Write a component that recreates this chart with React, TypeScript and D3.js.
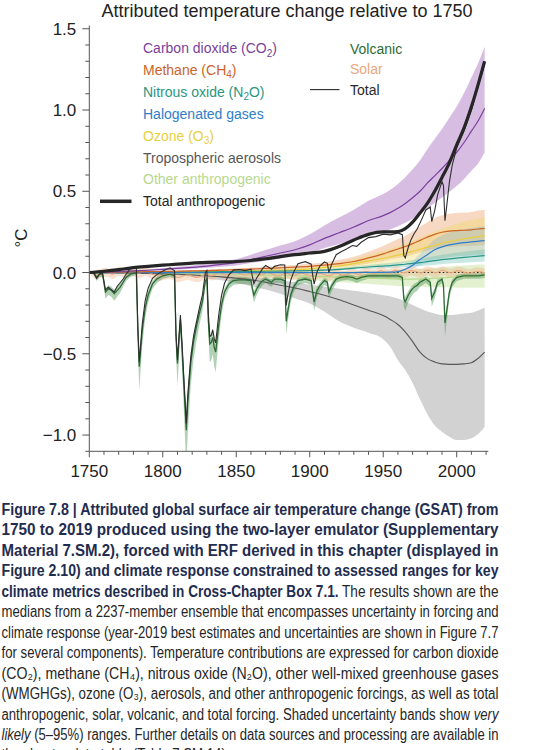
import React from 'react';
import * as d3 from 'd3';

// ---------- data (°C relative to 1750) ----------
const YEARS = [1750,1760,1770,1780,1790,1800,1810,1820,1830,1840,1850,1860,1870,1880,1890,1900,1910,1920,1930,1940,1950,1955,1960,1965,1970,1975,1980,1985,1990,1995,2000,2005,2010,2015,2019];

const CO2 = [0,0.003,0.006,0.01,0.014,0.019,0.025,0.032,0.04,0.05,0.06,0.08,0.10,0.12,0.14,0.17,0.21,0.245,0.28,0.32,0.35,0.37,0.395,0.425,0.46,0.50,0.55,0.595,0.64,0.69,0.74,0.80,0.87,0.94,1.01];
const CO2_LO = [0,0.002,0.004,0.007,0.01,0.014,0.018,0.023,0.029,0.036,0.043,0.058,0.072,0.086,0.101,0.122,0.151,0.176,0.202,0.23,0.252,0.266,0.284,0.306,0.331,0.36,0.396,0.428,0.461,0.497,0.533,0.576,0.626,0.677,0.74];
const CO2_HI = [0,0.004,0.008,0.014,0.019,0.026,0.035,0.044,0.055,0.069,0.083,0.11,0.138,0.166,0.193,0.235,0.29,0.338,0.386,0.442,0.483,0.511,0.545,0.587,0.635,0.69,0.759,0.821,0.883,0.952,1.021,1.104,1.2,1.297,1.39];

const CH4 = [0,0.001,0.002,0.004,0.005,0.007,0.008,0.01,0.012,0.015,0.018,0.021,0.025,0.029,0.033,0.038,0.045,0.055,0.068,0.09,0.115,0.13,0.145,0.16,0.178,0.198,0.218,0.235,0.248,0.255,0.258,0.26,0.263,0.268,0.272];
const CH4_LO = [0,0.001,0.001,0.002,0.003,0.004,0.005,0.006,0.007,0.009,0.011,0.013,0.016,0.018,0.02,0.024,0.028,0.034,0.042,0.056,0.071,0.081,0.09,0.099,0.11,0.123,0.135,0.146,0.154,0.158,0.16,0.161,0.163,0.166,0.169];
const CH4_HI = [0,0.001,0.003,0.006,0.007,0.01,0.011,0.014,0.017,0.021,0.026,0.03,0.036,0.041,0.047,0.054,0.064,0.078,0.097,0.128,0.163,0.185,0.206,0.227,0.253,0.281,0.31,0.334,0.352,0.362,0.366,0.369,0.373,0.381,0.386];

const N2O = [0,0,0.001,0.001,0.002,0.002,0.003,0.003,0.004,0.005,0.006,0.007,0.008,0.009,0.01,0.012,0.015,0.02,0.027,0.034,0.04,0.043,0.047,0.051,0.056,0.061,0.067,0.073,0.079,0.084,0.089,0.093,0.097,0.101,0.104];
const N2O_LO = [0,0,0.001,0.001,0.001,0.001,0.002,0.002,0.003,0.003,0.004,0.005,0.005,0.006,0.007,0.008,0.01,0.013,0.018,0.022,0.026,0.028,0.031,0.033,0.036,0.04,0.044,0.047,0.051,0.055,0.058,0.06,0.063,0.066,0.068];
const N2O_HI = [0,0,0.001,0.001,0.003,0.003,0.004,0.004,0.006,0.007,0.008,0.01,0.011,0.012,0.014,0.017,0.021,0.028,0.037,0.047,0.055,0.059,0.065,0.07,0.077,0.084,0.092,0.101,0.109,0.116,0.123,0.128,0.134,0.139,0.144];

const HALO = [0,0,0,0,0,0,0,0,0,0,0,0,0,0,0,0,0,0,0,0.001,0.001,0.002,0.006,0.02,0.045,0.08,0.11,0.14,0.158,0.17,0.178,0.184,0.189,0.193,0.196];
const HALO_LO = [0,0,0,0,0,0,0,0,0,0,0,0,0,0,0,0,0,0,0,0,0.001,0.001,0.003,0.011,0.025,0.044,0.06,0.077,0.087,0.094,0.098,0.101,0.104,0.106,0.108];
const HALO_HI = [0,0,0,0,0,0,0,0,0,0,0,0,0,0,0,0,0,0,0,0.001,0.002,0.003,0.009,0.029,0.065,0.116,0.16,0.203,0.229,0.247,0.258,0.267,0.274,0.28,0.284];

const O3 = [0,0,0.001,0.001,0.002,0.002,0.003,0.004,0.005,0.006,0.008,0.01,0.012,0.015,0.018,0.022,0.03,0.04,0.055,0.072,0.088,0.097,0.107,0.118,0.13,0.143,0.156,0.168,0.18,0.19,0.2,0.208,0.215,0.221,0.226];
const O3_LO = [0,0,0.001,0.001,0.001,0.001,0.002,0.002,0.003,0.003,0.004,0.005,0.006,0.008,0.009,0.011,0.015,0.02,0.028,0.036,0.044,0.049,0.054,0.059,0.065,0.072,0.078,0.084,0.09,0.095,0.1,0.104,0.108,0.111,0.113];
const O3_HI = [0,0,0.002,0.002,0.003,0.003,0.005,0.006,0.008,0.009,0.012,0.015,0.018,0.023,0.027,0.033,0.045,0.06,0.083,0.108,0.132,0.146,0.161,0.177,0.195,0.215,0.234,0.252,0.27,0.285,0.3,0.312,0.323,0.332,0.339];

const AER = [0,-0.001,-0.002,-0.004,-0.006,-0.008,-0.011,-0.015,-0.02,-0.027,-0.035,-0.045,-0.06,-0.078,-0.095,-0.117,-0.14,-0.168,-0.2,-0.232,-0.265,-0.29,-0.32,-0.365,-0.425,-0.49,-0.53,-0.55,-0.562,-0.565,-0.565,-0.562,-0.555,-0.525,-0.49];
const AER_LO = [0,-0.001,-0.002,-0.004,-0.007,-0.012,-0.018,-0.026,-0.036,-0.048,-0.065,-0.085,-0.105,-0.13,-0.16,-0.19,-0.24,-0.3,-0.34,-0.37,-0.41,-0.46,-0.54,-0.6,-0.68,-0.78,-0.87,-0.94,-0.98,-1.01,-1.03,-1.03,-1.02,-0.99,-0.95];
const AER_HI = [0,0,0,-0.001,-0.001,-0.002,-0.003,-0.005,-0.008,-0.012,-0.018,-0.027,-0.037,-0.048,-0.06,-0.075,-0.088,-0.1,-0.112,-0.125,-0.14,-0.148,-0.16,-0.178,-0.2,-0.22,-0.24,-0.252,-0.262,-0.262,-0.258,-0.252,-0.247,-0.232,-0.215];

const OTHER = [0,-0.001,-0.002,-0.003,-0.004,-0.005,-0.006,-0.007,-0.008,-0.01,-0.012,-0.014,-0.016,-0.018,-0.02,-0.022,-0.025,-0.028,-0.031,-0.034,-0.037,-0.039,-0.04,-0.04,-0.04,-0.039,-0.037,-0.035,-0.033,-0.03,-0.027,-0.025,-0.023,-0.021,-0.02];
const OTHER_LO = [0,-0.003,-0.005,-0.007,-0.009,-0.011,-0.013,-0.016,-0.018,-0.022,-0.026,-0.03,-0.034,-0.038,-0.042,-0.047,-0.053,-0.058,-0.064,-0.07,-0.076,-0.08,-0.083,-0.085,-0.087,-0.088,-0.089,-0.09,-0.091,-0.092,-0.093,-0.093,-0.094,-0.094,-0.094];
const OTHER_HI = [0,0.001,0.001,0.001,0.002,0.002,0.002,0.002,0.003,0.003,0.003,0.004,0.004,0.005,0.005,0.006,0.006,0.007,0.008,0.009,0.01,0.011,0.013,0.015,0.018,0.021,0.025,0.029,0.033,0.037,0.041,0.044,0.047,0.049,0.05];

const ANTHRO = [0,0.008,0.018,0.03,0.038,0.045,0.052,0.058,0.062,0.065,0.068,0.074,0.085,0.098,0.11,0.12,0.13,0.16,0.2,0.235,0.25,0.25,0.252,0.27,0.31,0.366,0.425,0.5,0.585,0.675,0.785,0.89,1.02,1.17,1.30];

const VOLC_YEARS = [1750,1753,1755,1757,1759,1761,1763,1765,1767,1769,1771,1773,1775,1778,1782,1783,1784,1786,1788,1790,1793,1796,1800,1805,1808,1809,1810,1811,1812,1813,1815,1816,1817,1819,1821,1823,1825,1827,1829,1830,1831,1832,1833,1834,1835,1836,1838,1840,1842,1845,1848,1852,1856,1860,1861,1862,1864,1866,1868,1870,1872,1874,1876,1880,1883,1884,1885,1887,1889,1892,1897,1901,1902,1903,1905,1907,1910,1912,1913,1915,1918,1921,1925,1929,1932,1935,1940,1945,1950,1955,1960,1963,1964,1965,1967,1969,1971,1973,1975,1977,1979,1982,1983,1985,1987,1990,1991,1992,1993,1995,1997,2000,2005,2010,2015,2019];
const VOLCANIC = [0,0,-0.03,-0.01,-0.01,-0.12,-0.10,-0.11,-0.13,-0.11,-0.09,-0.06,-0.03,-0.01,0,-0.35,-0.58,-0.36,-0.22,-0.14,-0.07,-0.04,-0.02,-0.01,-0.02,-0.40,-0.56,-0.42,-0.29,-0.45,-0.80,-0.97,-0.80,-0.56,-0.42,-0.33,-0.25,-0.18,-0.05,-0.04,-0.30,-0.44,-0.43,-0.40,-0.46,-0.49,-0.33,-0.20,-0.12,-0.07,-0.05,-0.045,-0.045,-0.05,-0.10,-0.14,-0.10,-0.07,-0.05,-0.04,-0.05,-0.06,-0.04,-0.04,-0.05,-0.30,-0.24,-0.14,-0.09,-0.05,-0.04,-0.05,-0.12,-0.18,-0.11,-0.08,-0.05,-0.06,-0.12,-0.08,-0.04,-0.03,-0.025,-0.03,-0.04,-0.03,-0.02,-0.02,-0.02,-0.02,-0.02,-0.03,-0.16,-0.18,-0.14,-0.11,-0.09,-0.08,-0.06,-0.05,-0.04,-0.06,-0.16,-0.12,-0.06,-0.04,-0.08,-0.31,-0.25,-0.12,-0.06,-0.03,-0.02,-0.02,-0.02,-0.015];
const VOLC_LO = [0,-0.015,-0.052,-0.027,-0.027,-0.161,-0.137,-0.149,-0.174,-0.149,-0.125,-0.088,-0.052,-0.027,-0.015,-0.442,-0.723,-0.454,-0.283,-0.186,-0.10,-0.064,-0.039,-0.027,-0.039,-0.503,-0.698,-0.527,-0.369,-0.564,-0.991,-1.198,-0.991,-0.698,-0.527,-0.418,-0.32,-0.235,-0.076,-0.064,-0.381,-0.552,-0.54,-0.503,-0.576,-0.613,-0.418,-0.259,-0.161,-0.10,-0.076,-0.07,-0.07,-0.076,-0.137,-0.186,-0.137,-0.10,-0.076,-0.064,-0.076,-0.088,-0.064,-0.064,-0.076,-0.381,-0.308,-0.186,-0.125,-0.076,-0.064,-0.076,-0.161,-0.235,-0.149,-0.113,-0.076,-0.088,-0.161,-0.113,-0.064,-0.052,-0.046,-0.052,-0.064,-0.052,-0.039,-0.039,-0.039,-0.039,-0.039,-0.052,-0.21,-0.235,-0.186,-0.149,-0.125,-0.113,-0.088,-0.076,-0.064,-0.088,-0.21,-0.161,-0.088,-0.064,-0.113,-0.393,-0.32,-0.161,-0.088,-0.052,-0.039,-0.039,-0.039,-0.033];
const VOLC_HI = [0,0.012,-0.015,0.003,0.003,-0.096,-0.078,-0.087,-0.105,-0.087,-0.069,-0.042,-0.015,0.003,0.012,-0.303,-0.51,-0.312,-0.186,-0.114,-0.051,-0.024,-0.006,0.003,-0.006,-0.348,-0.492,-0.366,-0.249,-0.393,-0.708,-0.861,-0.708,-0.492,-0.366,-0.285,-0.213,-0.15,-0.033,-0.024,-0.258,-0.384,-0.375,-0.348,-0.402,-0.429,-0.285,-0.168,-0.096,-0.051,-0.033,-0.029,-0.029,-0.033,-0.078,-0.114,-0.078,-0.051,-0.033,-0.024,-0.033,-0.042,-0.024,-0.024,-0.033,-0.258,-0.204,-0.114,-0.069,-0.033,-0.024,-0.033,-0.096,-0.15,-0.087,-0.06,-0.033,-0.042,-0.096,-0.06,-0.024,-0.015,-0.01,-0.015,-0.024,-0.015,-0.006,-0.006,-0.006,-0.006,-0.006,-0.015,-0.132,-0.15,-0.114,-0.087,-0.069,-0.06,-0.042,-0.033,-0.024,-0.042,-0.132,-0.096,-0.042,-0.024,-0.06,-0.267,-0.213,-0.096,-0.042,-0.015,-0.006,-0.006,-0.006,-0.002];
const TOTAL = [0,-0.003,-0.036,-0.009,-0.003,-0.106,-0.091,-0.105,-0.12,-0.085,-0.063,-0.04,-0.011,0.026,0.032,-0.321,-0.552,-0.32,-0.174,-0.098,-0.035,-0.013,0.01,0.029,0.011,-0.374,-0.538,-0.395,-0.262,-0.418,-0.762,-0.929,-0.759,-0.525,-0.389,-0.301,-0.215,-0.137,0.0,0.012,-0.251,-0.393,-0.387,-0.352,-0.407,-0.432,-0.266,-0.141,-0.066,-0.014,0.015,0.018,0.011,0.02,-0.027,-0.068,-0.032,-0.004,0.025,0.043,0.033,0.02,0.038,0.048,0.046,-0.202,-0.144,-0.048,0.001,0.054,0.067,0.051,-0.016,-0.072,0.005,0.041,0.065,0.057,-0.001,0.052,0.11,0.126,0.145,0.166,0.161,0.186,0.215,0.221,0.236,0.232,0.244,0.233,0.104,0.09,0.154,0.204,0.239,0.266,0.304,0.344,0.385,0.403,0.314,0.38,0.478,0.559,0.535,0.319,0.393,0.555,0.663,0.767,0.872,0.998,1.158,1.283];

const SOLAR_YEARS = [1750,1755,1761,1766,1770,1775,1779,1784,1788,1793,1798,1805,1810,1817,1823,1830,1833,1838,1843,1849,1856,1861,1867,1871,1878,1884,1889,1894,1901,1907,1913,1918,1923,1929,1933,1938,1944,1948,1954,1958,1964,1969,1976,1980,1986,1990,1996,2001,2008,2014,2019];
const SOLAR = [0,-0.01,0.005,-0.01,0.01,-0.005,0.01,-0.005,0.01,-0.01,-0.02,-0.01,-0.03,-0.015,-0.03,-0.01,-0.02,0.0,-0.015,0.0,-0.015,-0.002,-0.015,0.0,-0.018,-0.005,-0.018,-0.004,-0.02,-0.006,-0.02,-0.004,-0.016,0.0,-0.012,0.006,-0.006,0.012,-0.004,0.015,-0.002,0.012,-0.002,0.014,-0.001,0.014,-0.001,0.012,-0.004,0.008,-0.002];
const SOLAR_LO = [0,-0.04,-0.025,-0.04,-0.02,-0.035,-0.02,-0.035,-0.02,-0.04,-0.05,-0.04,-0.06,-0.045,-0.06,-0.04,-0.05,-0.03,-0.045,-0.03,-0.045,-0.032,-0.045,-0.03,-0.048,-0.035,-0.048,-0.034,-0.05,-0.036,-0.05,-0.034,-0.046,-0.03,-0.042,-0.024,-0.036,-0.018,-0.034,-0.015,-0.032,-0.018,-0.032,-0.016,-0.031,-0.016,-0.031,-0.018,-0.034,-0.022,-0.032];
const SOLAR_HI = [0,0.015,0.03,0.015,0.035,0.02,0.035,0.02,0.035,0.015,0.005,0.015,-0.005,0.01,-0.005,0.015,0.005,0.025,0.01,0.025,0.01,0.023,0.01,0.025,0.007,0.02,0.007,0.021,0.005,0.019,0.005,0.021,0.009,0.025,0.013,0.031,0.019,0.037,0.021,0.04,0.023,0.037,0.023,0.039,0.024,0.039,0.024,0.037,0.021,0.033,0.023];

const X_TICKS = [1750, 1800, 1850, 1900, 1950, 2000];
const X_MINOR = [1760,1770,1780,1790,1810,1820,1830,1840,1860,1870,1880,1890,1910,1920,1930,1940,1960,1970,1980,1990,2010,2020];
const Y_TICKS = [-1.0, -0.5, 0.0, 0.5, 1.0, 1.5];
const Y_TICK_LABELS = ['\u22121.0', '\u22120.5', '0.0', '0.5', '1.0', '1.5'];
const Y_MINOR = [-1.1,-0.9,-0.8,-0.7,-0.6,-0.4,-0.3,-0.2,-0.1,0.1,0.2,0.3,0.4,0.6,0.7,0.8,0.9,1.1,1.2,1.3,1.4];

const TITLE = 'Attributed temperature change relative to 1750';
const Y_LABEL = '\u00B0C';

const COLORS = {
  co2: '#7b3f9e', ch4: '#cc6428', n2o: '#2a9682', halo: '#2f7ec8', o3: '#e8cf3e',
  aer: '#575757', other: '#b7d98e', anthro: '#262626', volc: '#2e6b35', solar: '#eaa87c', total: '#2e2e2e',
};

const FONT = "'Liberation Sans', Arial, Helvetica, sans-serif";
const CAP_FONT = "'Liberation Sans Narrow', 'Arial Narrow', 'Liberation Sans', Arial, sans-serif";

type Seg = { t: string; b?: boolean; i?: boolean };
const CAPTION: { segs: Seg[]; w: number }[] = [
  { segs: [{ t: 'Figure 7.8 | Attributed global surface air temperature change (GSAT) from', b: true }], w: 497 },
  { segs: [{ t: '1750 to 2019 produced using the two-layer emulator (Supplementary', b: true }], w: 497 },
  { segs: [{ t: 'Material 7.SM.2), forced with ERF derived in this chapter (displayed in', b: true }], w: 497 },
  { segs: [{ t: 'Figure 2.10) and climate response constrained to assessed ranges for key', b: true }], w: 497 },
  { segs: [{ t: 'climate metrics described in Cross-Chapter Box 7.1.', b: true }, { t: ' The results shown are the' }], w: 497 },
  { segs: [{ t: 'medians from a 2237-member ensemble that encompasses uncertainty in forcing and' }], w: 497 },
  { segs: [{ t: 'climate response (year-2019 best estimates and uncertainties are shown in Figure 7.7' }], w: 497 },
  { segs: [{ t: 'for several components). Temperature contributions are expressed for carbon dioxide' }], w: 497 },
  { segs: [{ t: '(CO\u2082), methane (CH\u2084), nitrous oxide (N\u2082O), other well-mixed greenhouse gases' }], w: 497 },
  { segs: [{ t: '(WMGHGs), ozone (O\u2083), aerosols, and other anthropogenic forcings, as well as total' }], w: 497 },
  { segs: [{ t: 'anthropogenic, solar, volcanic, and total forcing. Shaded uncertainty bands show ' }, { t: 'very', i: true }], w: 497 },
  { segs: [{ t: 'likely', i: true }, { t: ' (5\u201395%) ranges. Further details on data sources and processing are available in' }], w: 497 },
  { segs: [{ t: 'the chapter data table (Table 7.SM.14).' }], w: 228 },
];

export default function App() {
  const x = d3.scaleLinear().domain([1750, 2021.5]).range([89.3, 488.3]);
  const y = d3.scaleLinear().domain([-1.1, 1.52]).range([451.3, 25.5]);

  const band = (xs: number[], lo: number[], hi: number[], curve: any = d3.curveMonotoneX) =>
    d3.area<number>().x((d) => x(d)).y0((_, i) => y(lo[i])).y1((_, i) => y(hi[i])).curve(curve)(xs) || '';
  const line = (xs: number[], vs: number[], curve: any = d3.curveMonotoneX) =>
    d3.line<number>().x((_, i) => x(xs[i])).y((d) => y(d)).curve(curve)(vs) || '';

  const x0 = x(1750), x1 = x(2021.5), yb = y(-1.1), yt = y(1.52);

  const legendLeft: { label: React.ReactNode; color: string }[] = [
    { label: <>Carbon dioxide (CO<tspan fontSize={10} dy={3.5}>2</tspan><tspan dy={-3.5}>)</tspan></>, color: COLORS.co2 },
    { label: <>Methane (CH<tspan fontSize={10} dy={3.5}>4</tspan><tspan dy={-3.5}>)</tspan></>, color: COLORS.ch4 },
    { label: <>Nitrous oxide (N<tspan fontSize={10} dy={3.5}>2</tspan><tspan dy={-3.5}>O)</tspan></>, color: COLORS.n2o },
    { label: 'Halogenated gases', color: COLORS.halo },
    { label: <>Ozone (O<tspan fontSize={10} dy={3.5}>3</tspan><tspan dy={-3.5}>)</tspan></>, color: COLORS.o3 },
    { label: 'Tropospheric aerosols', color: COLORS.aer },
    { label: 'Other anthropogenic', color: COLORS.other },
    { label: 'Total anthropogenic', color: COLORS.anthro },
  ];
  const legendRight = [
    { label: 'Volcanic', color: COLORS.volc },
    { label: 'Solar', color: COLORS.solar },
    { label: 'Total', color: '#2a2a2a' },
  ];

  return (
    <svg width={541} height={750} style={{ position: 'absolute', left: 0, top: 0, background: '#fff' }} fontFamily={FONT}>
      <defs>
        <clipPath id="plot">
          <rect x={x0} y={yt} width={x1 - x0} height={yb - yt} />
        </clipPath>
      </defs>
      <rect x={0} y={0} width={541} height={750} fill="#fff" />

      <text x={287} y={16.5} fontSize={18} textAnchor="middle" fill="#222">{TITLE}</text>

      <g clipPath="url(#plot)">
        {/* uncertainty bands */}
        <path d={band(YEARS, AER_LO, AER_HI)} fill="#a3a6a3" fillOpacity={0.5} />
        <path d={band(YEARS, CO2_LO, CO2_HI)} fill="#9b59b6" fillOpacity={0.4} />
        <path d={band(YEARS, CH4_LO, CH4_HI)} fill="#e8904f" fillOpacity={0.34} />
        <path d={band(YEARS, O3_LO, O3_HI)} fill="#f0d850" fillOpacity={0.32} />
        <path d={band(YEARS, HALO_LO, HALO_HI)} fill="#5fa5e0" fillOpacity={0.25} />
        <path d={band(YEARS, N2O_LO, N2O_HI)} fill="#4fb5a5" fillOpacity={0.3} />
        <path d={band(YEARS, OTHER_LO, OTHER_HI)} fill="#c2e09a" fillOpacity={0.45} />
        <path d={band(SOLAR_YEARS, SOLAR_LO, SOLAR_HI)} fill="#f0a878" fillOpacity={0.35} />
        <path d={band(VOLC_YEARS, VOLC_LO, VOLC_HI, d3.curveLinear)} fill="#3d8b45" fillOpacity={0.4} />

        {/* zero line */}
        <line x1={x(1750)} x2={x(2019)} y1={y(0)} y2={y(0)} stroke="#222" strokeWidth={1} strokeDasharray="1.6 2.2" />

        {/* medians */}
        <path d={line(YEARS, OTHER)} fill="none" stroke={COLORS.other} strokeWidth={1.2} />
        <path d={line(YEARS, AER)} fill="none" stroke={COLORS.aer} strokeWidth={1.1} />
        <path d={line(SOLAR_YEARS, SOLAR)} fill="none" stroke={COLORS.solar} strokeWidth={1.1} />
        <path d={line(YEARS, O3)} fill="none" stroke={COLORS.o3} strokeWidth={1.2} />
        <path d={line(YEARS, N2O)} fill="none" stroke={COLORS.n2o} strokeWidth={1.2} />
        <path d={line(YEARS, HALO)} fill="none" stroke={COLORS.halo} strokeWidth={1.2} />
        <path d={line(YEARS, CH4)} fill="none" stroke={COLORS.ch4} strokeWidth={1.2} />
        <path d={line(YEARS, CO2)} fill="none" stroke={COLORS.co2} strokeWidth={1.2} />
        <path d={line(VOLC_YEARS, VOLCANIC, d3.curveLinear)} fill="none" stroke={COLORS.volc} strokeWidth={1.3} />
        <path d={line(VOLC_YEARS, TOTAL, d3.curveLinear)} fill="none" stroke={COLORS.total} strokeWidth={1.1} />
        <path d={line(YEARS, ANTHRO)} fill="none" stroke={COLORS.anthro} strokeWidth={3.2} />
      </g>

      {/* axes */}
      <g stroke="#555" strokeWidth={1}>
        <line x1={x0} x2={x0} y1={yt} y2={yb} />
        <line x1={x0} x2={x1} y1={yb} y2={yb} />
        {Y_TICKS.map((t) => <line key={'ym' + t} x1={x0 - 7} x2={x0} y1={y(t)} y2={y(t)} />)}
        {Y_MINOR.map((t) => <line key={'yn' + t} x1={x0 - 4} x2={x0} y1={y(t)} y2={y(t)} />)}
        {X_TICKS.map((t) => <line key={'xm' + t} x1={x(t)} x2={x(t)} y1={yb} y2={yb + 6} />)}
        {X_MINOR.map((t) => <line key={'xn' + t} x1={x(t)} x2={x(t)} y1={yb} y2={yb + 3.5} />)}
      </g>
      <g fontSize={17} fill="#222">
        {Y_TICKS.map((t, i) => (
          <text key={'yl' + t} x={x0 - 13} y={y(t)} dy="0.36em" textAnchor="end">{Y_TICK_LABELS[i]}</text>
        ))}
        {X_TICKS.map((t) => (
          <text key={'xl' + t} x={x(t)} y={477} textAnchor="middle">{t}</text>
        ))}
      </g>
      <text transform="translate(27,238) rotate(-90)" fontSize={17} textAnchor="middle" fill="#222">{Y_LABEL}</text>

      {/* legend */}
      <g fontSize={14}>
        {legendLeft.map((d, i) => (
          <text key={'ll' + i} x={143} y={53 + i * 21.9} fill={d.color}>{d.label}</text>
        ))}
        <line x1={100} x2={131.5} y1={53 + 7 * 21.9 - 5} y2={53 + 7 * 21.9 - 5} stroke={COLORS.anthro} strokeWidth={3.5} />
        {legendRight.map((d, i) => (
          <text key={'lr' + i} x={350} y={54 + i * 20.3} fill={d.color}>{d.label}</text>
        ))}
        <line x1={310} x2={339.5} y1={54 + 2 * 20.3 - 5} y2={54 + 2 * 20.3 - 5} stroke="#2a2a2a" strokeWidth={1.1} />
      </g>

      {/* caption: condensed look via vertical stretch + fitted line length */}
      <g fontFamily={CAP_FONT} fontSize={13.5}>
        {CAPTION.map((ln, i) => (
          <g key={'c' + i} transform={`translate(1.5,${515 + i * 20.45}) scale(1,1.2)`}>
            <text x={0} y={0} textLength={ln.w} lengthAdjust="spacingAndGlyphs">
              {ln.segs.map((s, j) => (
                <tspan key={j} fontWeight={s.b ? 'bold' : 'normal'} fontStyle={s.i ? 'italic' : 'normal'} fill={s.b ? '#1f2d50' : '#262626'}>{s.t}</tspan>
              ))}
            </text>
          </g>
        ))}
      </g>
    </svg>
  );
}
